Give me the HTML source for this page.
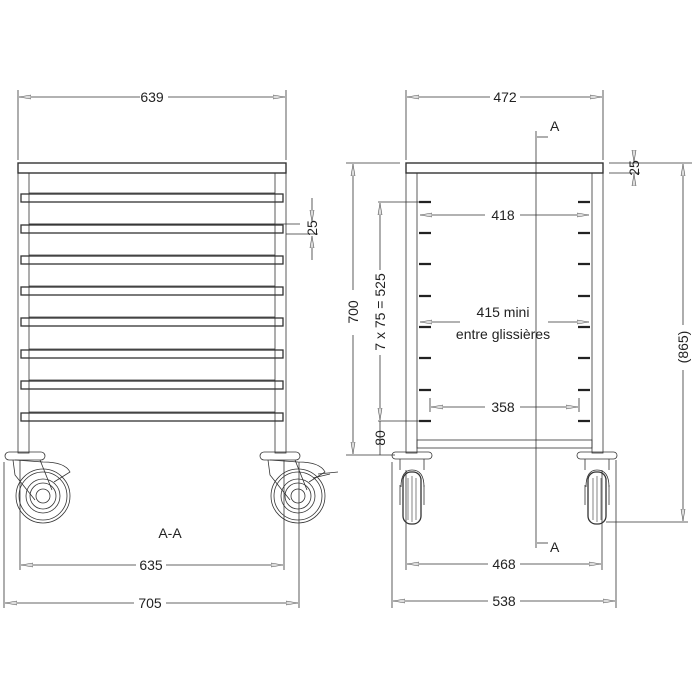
<!DOCTYPE html>
<html><head><meta charset="utf-8"><style>
html,body{margin:0;padding:0;background:#fff;}
svg{display:block}
text{font-family:"Liberation Sans Narrow","Liberation Sans",sans-serif;font-size:14px;fill:#222;}
</style></head><body>
<svg width="700" height="700" viewBox="0 0 700 700" xmlns="http://www.w3.org/2000/svg">
<defs>
<marker id="a" markerWidth="12" markerHeight="6" refX="12" refY="3" orient="auto-start-reverse" markerUnits="userSpaceOnUse">
<path d="M0,1 L12,3 L0,5 Z" fill="#ddd" stroke="#555" stroke-width="0.6"/></marker>
</defs>
<g stroke="#333" stroke-width="0.8" fill="none">
<!-- LEFT VIEW -->
<line x1="18" y1="90" x2="18" y2="160"/><line x1="286" y1="90" x2="286" y2="160"/>
<line x1="19" y1="97" x2="140" y2="97" marker-start="url(#a)"/><line x1="168" y1="97" x2="285" y2="97" marker-end="url(#a)"/>
<rect x="18" y="163" width="268" height="10" stroke-width="1.4"/>
<rect x="18" y="173" width="11" height="280"/><rect x="275" y="173" width="11" height="280"/>
<g id="sh">
<line x1="29" y1="193" x2="275" y2="193"/>
<rect x="21" y="194" width="262" height="8" stroke-width="1.3"/>
</g>
<use href="#sh" y="31"/><use href="#sh" y="62"/><use href="#sh" y="93"/><use href="#sh" y="124"/><use href="#sh" y="156"/><use href="#sh" y="187"/><use href="#sh" y="219"/>
<line x1="29" y1="224" x2="300" y2="224"/><line x1="286" y1="234" x2="318" y2="234"/>
<line x1="312" y1="198" x2="312" y2="222" marker-end="url(#a)"/><line x1="312" y1="260" x2="312" y2="236" marker-end="url(#a)"/>
<!-- left casters -->
<g id="cl">
<rect x="5" y="452" width="40" height="8" rx="4"/>
<path d="M13,460 L15,475 L35,500 M40,460 L52,490 M15,460 L43,462 Q65,462 70,472 L54,482"/>
<circle cx="43" cy="496" r="27"/><circle cx="43" cy="496" r="24"/><circle cx="43" cy="496" r="17"/><circle cx="43" cy="496" r="13"/><circle cx="43" cy="496" r="7"/>
</g>
<use href="#cl" x="255"/>
<path d="M318,474 L338,472 M313,478 L330,474"/>
<line x1="20" y1="460" x2="20" y2="570"/><line x1="284" y1="460" x2="284" y2="570"/>
<line x1="4" y1="462" x2="4" y2="608"/><line x1="299" y1="462" x2="299" y2="608"/>
<line x1="21" y1="565" x2="136" y2="565" marker-start="url(#a)"/><line x1="166" y1="565" x2="283" y2="565" marker-end="url(#a)"/>
<line x1="5" y1="603" x2="134" y2="603" marker-start="url(#a)"/><line x1="166" y1="603" x2="298" y2="603" marker-end="url(#a)"/>
<!-- RIGHT VIEW -->
<line x1="406" y1="90" x2="406" y2="160"/><line x1="603" y1="90" x2="603" y2="160"/>
<line x1="407" y1="97" x2="490" y2="97" marker-start="url(#a)"/><line x1="520" y1="97" x2="602" y2="97" marker-end="url(#a)"/>
<rect x="406" y="163" width="197" height="10" stroke-width="1.4"/>
<rect x="406" y="173" width="11" height="280"/><rect x="592" y="173" width="11" height="280"/>
<rect x="417" y="440" width="175" height="8"/>
<g stroke-width="2.2" stroke="#222">
<path d="M419,202h12M419,233h12M419,264h12M419,296h12M419,327h12M419,358h12M419,390h12M419,421h12"/>
<path d="M578,202h12M578,233h12M578,264h12M578,296h12M578,327h12M578,358h12M578,390h12M578,421h12"/>
</g>
<line x1="536" y1="131" x2="536" y2="548"/>
<line x1="548" y1="137" x2="537" y2="137"/><line x1="548" y1="543" x2="537" y2="543"/>
<line x1="420" y1="215" x2="485" y2="215" marker-start="url(#a)"/><line x1="520" y1="215" x2="589" y2="215" marker-end="url(#a)"/>
<line x1="420" y1="322" x2="460" y2="322" marker-start="url(#a)"/><line x1="548" y1="322" x2="589" y2="322" marker-end="url(#a)"/>
<line x1="430" y1="398" x2="430" y2="412"/><line x1="579" y1="398" x2="579" y2="412"/>
<line x1="431" y1="407" x2="485" y2="407" marker-start="url(#a)"/><line x1="520" y1="407" x2="578" y2="407" marker-end="url(#a)"/>
<!-- left dims -->
<line x1="346" y1="163" x2="400" y2="163"/><line x1="346" y1="455" x2="395" y2="455"/>
<line x1="353" y1="164" x2="353" y2="290" marker-start="url(#a)"/><line x1="353" y1="335" x2="353" y2="454" marker-end="url(#a)"/>
<line x1="378" y1="202" x2="420" y2="202"/><line x1="378" y1="421" x2="420" y2="421"/>
<line x1="380" y1="203" x2="380" y2="270" marker-start="url(#a)"/><line x1="380" y1="355" x2="380" y2="420" marker-end="url(#a)"/>
<line x1="380" y1="421" x2="380" y2="455"/>
<!-- right dims -->
<line x1="609" y1="163" x2="692" y2="163"/><line x1="609" y1="173" x2="640" y2="173"/>
<line x1="634" y1="150" x2="634" y2="162" marker-end="url(#a)"/><line x1="634" y1="186" x2="634" y2="174" marker-end="url(#a)"/>
<line x1="683" y1="164" x2="683" y2="325" marker-start="url(#a)"/><line x1="683" y1="370" x2="683" y2="521" marker-end="url(#a)"/>
<line x1="606" y1="522" x2="688" y2="522"/>
<!-- right casters -->
<g id="cr">
<rect x="392" y="452" width="40" height="7" rx="3.5"/>
<path d="M400,459 L400,470 M424,459 L424,470"/>
<path d="M401,487 Q401,470 412,470 Q424,470 424,487"/>
<rect x="403" y="472" width="18" height="52" rx="8" stroke-width="1.3"/>
<path d="M408,478v42M412,476v46M416,478v42" stroke-width="0.6"/>
<path d="M400,485v20M424,485v20"/>
</g>
<use href="#cr" x="185"/>
<line x1="406" y1="470" x2="406" y2="570"/><line x1="602" y1="470" x2="602" y2="570"/>
<line x1="392" y1="462" x2="392" y2="608"/><line x1="616" y1="460" x2="616" y2="608"/>
<line x1="407" y1="564" x2="488" y2="564" marker-start="url(#a)"/><line x1="520" y1="564" x2="601" y2="564" marker-end="url(#a)"/>
<line x1="393" y1="601" x2="488" y2="601" marker-start="url(#a)"/><line x1="520" y1="601" x2="615" y2="601" marker-end="url(#a)"/>
</g>
<g>
<text x="152" y="102" text-anchor="middle">639</text>
<text x="505" y="102" text-anchor="middle">472</text>
<text x="550" y="131" font-size="12">A</text>
<text x="550" y="552" font-size="12">A</text>
<text x="503" y="220" text-anchor="middle">418</text>
<text x="503" y="317" text-anchor="middle">415 mini</text>
<text x="503" y="339" text-anchor="middle">entre glissières</text>
<text x="503" y="412" text-anchor="middle">358</text>
<text x="170" y="538" text-anchor="middle" font-size="13">A-A</text>
<text x="151" y="570" text-anchor="middle">635</text>
<text x="150" y="608" text-anchor="middle">705</text>
<text x="504" y="569" text-anchor="middle">468</text>
<text x="504" y="606" text-anchor="middle">538</text>
<text transform="translate(358,312) rotate(-90)" text-anchor="middle">700</text>
<text transform="translate(385,312) rotate(-90)" text-anchor="middle">7 x 75 = 525</text>
<text transform="translate(385,438) rotate(-90)" text-anchor="middle">80</text>
<text transform="translate(317,228) rotate(-90)" text-anchor="middle">25</text>
<text transform="translate(639,168) rotate(-90)" text-anchor="middle">25</text>
<text transform="translate(688,347) rotate(-90)" text-anchor="middle">(865)</text>
</g>
</svg>
</body></html>
